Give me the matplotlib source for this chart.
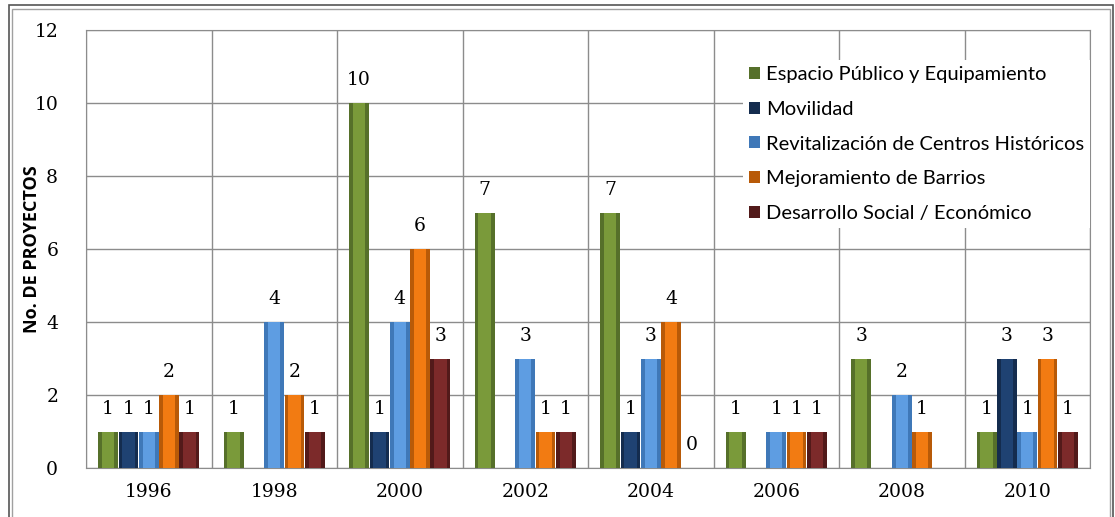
import numpy as np
import matplotlib.pyplot as plt
from matplotlib.patches import Rectangle

# datos (None = sin barra)
anios = ['1996', '1998', '2000', '2002', '2004', '2006', '2008', '2010']
espacio_publico = [1, 1, 10, 7, 7, 1, 3, 1]
movilidad = [1, None, 1, None, 1, None, None, 3]
centros_historicos = [1, 4, 4, 3, 3, 1, 2, 1]
mejoramiento_barrios = [2, 2, 6, 1, 4, 1, 1, 3]
desarrollo_social = [1, 1, 3, 1, 0, 1, None, 1]

series = [
    ('Espacio Público y Equipamiento', espacio_publico, '#7A9A3A', '#56702A'),
    ('Movilidad', movilidad, '#1F4272', '#142C4E'),
    ('Revitalización de Centros Históricos', centros_historicos, '#5E9DE2', '#3F78B8'),
    ('Mejoramiento de Barrios', mejoramiento_barrios, '#F27B12', '#B85A08'),
    ('Desarrollo Social / Económico', desarrollo_social, '#7C2A2A', '#521A1A'),
]

fig = plt.figure(figsize=(11.15, 5.17), dpi=100)
ax = fig.add_axes([86/1115, 1-468/517, (1090-86)/1115, (468-30)/517])

x = np.arange(len(anios))
w = 0.158
num_font = 'DejaVu Serif'
txt_font = 'Lato'

for i, (nombre, vals, color, borde) in enumerate(series):
    pos = x + (i - 2) * (w + 0.004)
    v = np.array([np.nan if a is None else a for a in vals], dtype=float)
    ax.bar(pos, v, w, color=borde, zorder=3, label=nombre)
    ax.bar(pos, v, w * 0.62, color=color, zorder=4)
    for p, val in zip(pos, vals):
        if val is None:
            continue
        ax.annotate(str(val), (p, val), xytext=(0, 10), textcoords='offset points',
                    ha='center', va='bottom', fontsize=13.5, family=num_font,
                    color='black', zorder=5)

ax.set_xlim(-0.5, len(anios) - 0.5)
ax.set_ylim(0, 12)
ax.set_yticks(range(0, 13, 2))
ax.set_xticks(x)
ax.set_xticklabels(anios, family=num_font, fontsize=13.5)
ax.set_yticklabels([str(t) for t in range(0, 13, 2)], family=num_font, fontsize=13.5)
ax.set_xticks(np.arange(-0.5, len(anios), 1), minor=True)
ax.tick_params(which='both', length=0, colors='black')
ax.tick_params(axis='y', pad=20)
ax.tick_params(axis='x', pad=11)
ax.grid(True, axis='y', color='#8C8C8C', lw=1, zorder=0)
ax.grid(True, axis='x', which='minor', color='#8C8C8C', lw=1, zorder=0)
for s in ax.spines.values():
    s.set_color('#8C8C8C')

ax.set_ylabel('No. DE PROYECTOS', family='Open Sans', fontweight='bold', fontsize=13)
ax.yaxis.set_label_coords(-0.045, 0.5)

leg = ax.legend(loc='upper left', bbox_to_anchor=(733/1115, 1-50/517),
                bbox_transform=fig.transFigure, frameon=True, fancybox=False,
                edgecolor='none', facecolor='white', framealpha=1,
                prop={'family': txt_font, 'size': 14.5}, handlelength=0.55,
                handleheight=0.55, handletextpad=0.3, labelspacing=0.88,
                borderpad=0.3)
leg.set_zorder(6)

# marco doble exterior
fig.patches.append(Rectangle((9/1115, -0.1), (1113-9)/1115, 1.1-5/517,
                             transform=fig.transFigure, fill=False,
                             edgecolor='#555555', lw=1.2))
fig.patches.append(Rectangle((12/1115, -0.1), (1110-12)/1115, 1.1-9/517,
                             transform=fig.transFigure, fill=False,
                             edgecolor='#A0A0A0', lw=1))

fig.savefig('out.png', dpi=100)
